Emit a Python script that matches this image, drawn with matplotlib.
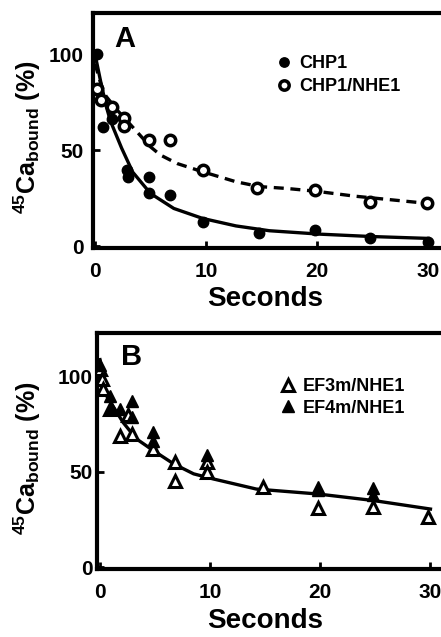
import matplotlib
matplotlib.use('Agg')
import matplotlib.pyplot as plt

plt.rcParams['font.family'] = ['Liberation Sans', 'DejaVu Sans']
plt.rcParams['font.weight'] = 'bold'
plt.rcParams['mathtext.fontset'] = 'custom'
plt.rcParams['mathtext.rm'] = 'Liberation Sans:bold'
plt.rcParams['mathtext.it'] = 'Liberation Sans:bold'
plt.rcParams['mathtext.bf'] = 'Liberation Sans:bold'

# panel A data (seconds, % 45Ca bound)
chp1_t = [0.15, 0.7, 1.5, 2.9, 3.0, 4.85, 4.85, 6.8, 9.7, 14.8, 19.8, 24.8, 30]
chp1_v = [100, 62, 66, 39.6, 36, 36, 27.4, 26.6, 12.7, 6.6, 8.3, 4, 2.2]
chp1nhe_t = [0.2, 0.5, 1.5, 2.6, 2.6, 4.85, 6.8, 9.7, 14.6, 19.8, 24.8, 29.9]
chp1nhe_v = [82, 76, 72.5, 66.5, 62.7, 55.2, 55.2, 39.6, 30, 29.2, 23, 22.2]

# fitted curves as drawn in panel A
fitA_solid_t = [0, 0.5, 1.0, 1.4, 2.4, 3.4, 5, 7.1, 9.7, 12.7, 15.7, 20.3, 24.8, 30]
fitA_solid_v = [100, 86, 73, 65, 51, 38.5, 27.4, 19.6, 14.4, 10.5, 8, 6.2, 5, 4]
fitA_dash_t = [0, 0.5, 1.0, 2.0, 3.5, 5.0, 5.9, 7.4, 9.7, 12.7, 14.8, 17.3, 20, 23.4, 30]
fitA_dash_v = [95, 85, 78, 70.8, 61.3, 51.7, 47.4, 43, 38.7, 33.5, 31, 30, 28.5, 26, 22.2]

# panel B data
ef3m_t = [0, 0.15, 0.3, 0.9, 1.8, 2.5, 2.9, 4.85, 6.8, 6.8, 9.7, 9.7, 14.8, 19.8, 24.8, 29.8]
ef3m_v = [104, 99, 93.7, 83, 69, 80, 70, 62, 55, 45.4, 55.4, 50, 42.3, 31, 31.7, 26.5]
ef4m_t = [0, 0.9, 1.0, 1.8, 2.9, 2.9, 4.85, 4.85, 9.7, 19.8, 19.8, 24.8, 24.8]
ef4m_v = [106, 90, 84, 83, 87.5, 78.8, 70.9, 66.5, 59, 42, 40.5, 41.5, 37.9]

fitB_t = [0, 0.6, 2.1, 3.3, 4.85, 6.7, 8.5, 10.3, 14.2, 19.8, 24.8, 30]
fitB_v = [109, 90, 76, 67.4, 61.2, 54.2, 49, 46.3, 41, 38.4, 35, 30.5]

W, H = 441, 637
fig = plt.figure(figsize=(W / 100, H / 100), dpi=100)


def px_axes(left, top, right, bottom):
    return fig.add_axes([left / W, 1 - bottom / H, (right - left) / W, (bottom - top) / H])


def style(ax, ypad):
    for s in ax.spines.values():
        s.set_linewidth(3)
    ax.set_xticks([0, 10, 20, 30])
    ax.set_yticks([0, 50, 100])
    ax.tick_params(axis='both', direction='in', length=5, width=2, labelsize=15)
    ax.tick_params(axis='x', pad=10)
    ax.tick_params(axis='y', pad=ypad)
    ax.set_ylabel(r'$^{45}$Ca$_{\rm bound}$ (%)', fontsize=18, fontweight='bold')
    ax.set_xlabel('Seconds', fontsize=20, fontweight='bold')


# ---- A ----
axA = px_axes(93, 13, 458, 248)
axA.set_xlim(-0.18, 32.7)
axA.set_ylim(-1, 121.4)
axA.plot(fitA_solid_t, fitA_solid_v, '-', color='black', lw=2.4, zorder=2)
axA.plot(fitA_dash_t, fitA_dash_v, '--', color='black', lw=2.4, dashes=(3, 2), zorder=2)
axA.plot(chp1_t, chp1_v, 'o', color='black', ms=7.5, ls='none', zorder=3, label='CHP1')
axA.plot(chp1nhe_t, chp1nhe_v, 'o', mfc='white', mec='black', mew=2.5, ms=7.5, ls='none',
         zorder=3, label='CHP1/NHE1')
style(axA, 7)
axA.yaxis.set_label_coords(-0.137, 0.47)
axA.xaxis.set_label_coords(0.471, -0.16)
axA.text(2.7, 108, 'A', fontsize=21, fontweight='bold', ha='center', va='center')
axA.legend(loc='upper left', bbox_to_anchor=(279 / W, 1 - 55 / H), bbox_transform=fig.transFigure,
           frameon=False, fontsize=13, handlelength=0.6, handletextpad=0.5,
           labelspacing=0.35, borderpad=0, borderaxespad=0, markerscale=0.9)

# ---- B ----
axB = px_axes(97, 333, 458, 569)
axB.set_xlim(-0.27, 32.5)
axB.set_ylim(-1, 123)
axB.plot(fitB_t, fitB_v, '-', color='black', lw=2.4, zorder=2)
axB.plot(ef3m_t, ef3m_v, '^', mfc='white', mec='black', mew=2.2, ms=9, ls='none',
         zorder=3, label='EF3m/NHE1')
axB.plot(ef4m_t, ef4m_v, '^', color='black', ms=9, ls='none', zorder=3, label='EF4m/NHE1')
style(axB, 3)
axB.yaxis.set_label_coords(-0.15, 0.47)
axB.xaxis.set_label_coords(0.465, -0.165)
axB.text(2.9, 110.5, 'B', fontsize=21, fontweight='bold', ha='center', va='center')
axB.legend(loc='upper left', bbox_to_anchor=(283 / W, 1 - 378 / H), bbox_transform=fig.transFigure,
           frameon=False, fontsize=13, handlelength=0.6, handletextpad=0.5,
           labelspacing=0.25, borderpad=0, borderaxespad=0, markerscale=0.9)

fig.savefig('out.png', dpi=100)
